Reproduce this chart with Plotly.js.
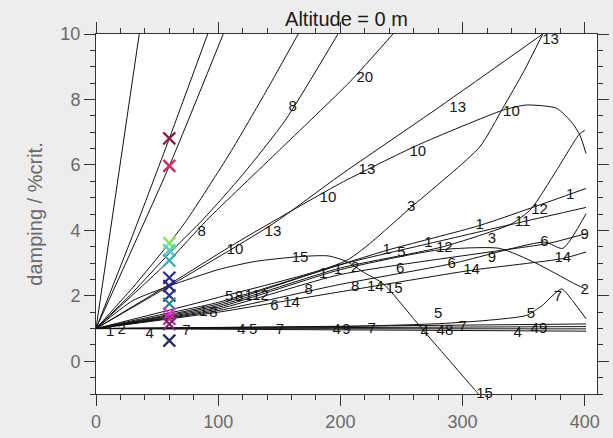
<!DOCTYPE html>
<html>
<head>
<meta charset="utf-8">
<script src="https://cdn.plot.ly/plotly-3.0.1.min.js"></script>
<style>
  html, body { margin: 0; padding: 0; background: #ededed; }
  #chart { width: 613px; height: 438px; }
</style>
</head>
<body>
<div id="chart"></div>
<script>
// V-g branches: speed and damping (% critical) for each tracked mode
const speed_fanA = [0, 35.4];
const damp_fanA  = [1, 10];
const speed_fanB = [0, 30, 60, 91.4];
const damp_fanB  = [1, 3.85, 6.81, 10];
const speed_fanC = [0, 60, 104.1];
const damp_fanC  = [1, 5.97, 10];
const speed_fanD = [0, 30, 60, 74.2, 109.6, 140, 165.5];
const damp_fanD  = [1, 2.25, 3.61, 4.31, 6.36, 8.3, 10];
const speed_m8  = [0, 30, 60, 88, 120, 155, 198];
const damp_m8   = [1, 2.1, 3.3, 4.35, 5.7, 7.37, 10];
const speed_m20 = [0, 60, 90.6, 150, 207.8, 243];
const damp_m20  = [1, 3.08, 4.31, 6.45, 8.54, 10];
const speed_m13 = [0, 60, 144.8, 199.6, 281, 365.6];
const damp_m13  = [1, 2.3, 4.2, 5.68, 7.77, 10];
const speed_m10 = [0, 60, 114, 199.6, 263, 333, 352, 377, 390, 396, 401];
const damp_m10  = [1, 2.35, 3.6, 5.43, 6.6, 7.67, 7.83, 7.73, 7.27, 6.91, 6.35];
const speed_m3  = [0, 100, 205, 258, 314, 333, 350, 365.6];
const damp_m3   = [1, 1.95, 3.08, 4.71, 6.55, 7.74, 8.85, 10];
const speed_m15 = [0, 30, 60, 100, 130, 167, 190, 205, 220, 235, 270, 312, 314];
const damp_m15  = [1, 1.85, 2.3, 2.8, 3.05, 3.2, 3.22, 3.05, 2.7, 2.37, 0.85, -0.96, -1.05];
const speed_m1  = [0, 50, 100, 170, 238, 314, 401];
const damp_m1   = [1, 1.4, 1.8, 2.6, 3.39, 4.15, 5.28];
const speed_m11 = [0, 100, 200, 273, 349, 401];
const damp_m11  = [1, 1.75, 2.95, 3.6, 4.26, 4.7];
const speed_m12 = [0, 100, 200, 284, 340, 356, 377, 396, 400];
const damp_m12  = [1, 1.7, 2.85, 3.5, 4.2, 4.65, 5.84, 6.96, 7.05];
const speed_m2  = [0, 100, 200, 280, 330, 360, 390, 401];
const damp_m2   = [1, 1.65, 2.8, 3.4, 3.45, 3.0, 2.4, 2.2];
const speed_m9  = [0, 100, 200, 324, 370, 401];
const damp_m9   = [1, 1.6, 2.65, 3.35, 3.6, 3.9];
const speed_m6  = [0, 100, 200, 291, 367, 382, 401];
const damp_m6   = [1, 1.55, 2.35, 2.98, 3.64, 3.45, 4.51];
const speed_m14 = [0, 100, 156, 228.5, 307, 382, 401];
const damp_m14  = [1, 1.5, 1.85, 2.3, 2.78, 3.14, 3.34];
const speed_m7  = [0, 100, 200, 281, 320, 352, 365, 381, 390, 401];
const damp_m7   = [1, 1.03, 1.06, 1.15, 1.25, 1.4, 1.7, 2.21, 1.85, 1.3];
const speed_m5  = [0, 401];
const damp_m5   = [1, 1.14];
const speed_m4  = [0, 401];
const damp_m4   = [1, 1.06];
const speed_m16 = [0, 401];
const damp_m16  = [1, 0.99];
const speed_m17 = [0, 401];
const damp_m17  = [1, 0.92];

// Mode-number labels along the branches
const labelText  = ['8','20','13','13','10','10','13','3','10','13','10','8','15','15',
                    '1','1','12','1','11','12','1','9','6','14','3','9','2','7','6','14',
                    '8','14','15','5','6',
                    '5','8','1','1','2','6','14','8','1','1','2','1','8',
                    '1','2','4','7','4','5','7','4','9',
                    '7','4','5','4','8','7','4','5','4','9'];
const labelSpeed = [161, 220, 372, 296, 340, 263.4, 221.7, 258, 189.8, 144.8, 113.7, 86.4, 167, 318,
                    237.8, 272, 285, 314, 349, 363, 388, 400, 367, 382, 324, 324, 400, 378, 291, 307.3,
                    212, 228.5, 244, 250, 249,
                    109, 117, 125, 131, 138, 146, 160, 174, 186, 198, 212, 88, 96,
                    11.5, 21, 44, 74, 119, 128.7, 150.5, 197, 205,
                    225.5, 269, 280, 282, 289, 300, 345, 356, 359, 366];
const labelDamp  = [7.77, 8.65, 9.82, 7.73, 7.6, 6.39, 5.84, 4.71, 4.98, 3.94, 3.39, 3.95, 3.14, -1.0,
                    3.39, 3.6, 3.45, 4.15, 4.26, 4.6, 5.07, 3.85, 3.64, 3.14, 3.72, 3.16, 2.16, 1.96, 2.98, 2.78,
                    2.25, 2.25, 2.2, 3.3, 2.8,
                    1.97, 1.97, 1.99, 1.99, 1.99, 1.68, 1.78, 2.16, 2.66, 2.77, 2.84, 1.5, 1.48,
                    0.89, 0.94, 0.84, 0.92, 0.94, 0.94, 0.94, 0.94, 0.94,
                    0.99, 0.89, 1.45, 0.93, 0.93, 1.04, 0.85, 1.45, 0.97, 0.97];

// Operating-point markers at V = 60
const markSpeed = [60, 60, 60, 60, 60, 60, 60, 60, 60, 60, 60, 60, 60];
const markDamp  = [6.81, 5.97, 3.61, 3.39, 3.08, 2.55, 2.3, 2.01, 1.76, 1.45, 1.3, 1.14, 0.63];
const markColor = ['#8a1c3c', '#d8245a', '#7ee860', '#48d0c0', '#30b0b8', '#2a2a9a', '#25258a',
                   '#303090', '#1a8a8a', '#e030d0', '#c02890', '#7a2070', '#2a2a60'];

const branches = [
  [speed_fanA, damp_fanA], [speed_fanB, damp_fanB], [speed_fanC, damp_fanC], [speed_fanD, damp_fanD],
  [speed_m8, damp_m8], [speed_m20, damp_m20], [speed_m13, damp_m13], [speed_m10, damp_m10],
  [speed_m3, damp_m3], [speed_m15, damp_m15], [speed_m1, damp_m1], [speed_m11, damp_m11],
  [speed_m12, damp_m12], [speed_m2, damp_m2], [speed_m9, damp_m9], [speed_m6, damp_m6],
  [speed_m14, damp_m14], [speed_m7, damp_m7], [speed_m5, damp_m5], [speed_m4, damp_m4],
  [speed_m16, damp_m16], [speed_m17, damp_m17]
];

const traces = branches.map(([s, d]) => ({
  x: s, y: d, type: 'scatter', mode: 'lines',
  line: { color: '#111111', width: 1, shape: 'spline', smoothing: 0.6 },
  hoverinfo: 'skip', showlegend: false, cliponaxis: true
}));

traces.push({
  x: labelSpeed, y: labelDamp, text: labelText, type: 'scatter', mode: 'text',
  textposition: 'middle center',
  textfont: { family: 'Liberation Sans, Arial, sans-serif', size: 15, color: '#151515' },
  hoverinfo: 'skip', showlegend: false, cliponaxis: false
});

traces.push({
  x: markSpeed, y: markDamp, type: 'scatter', mode: 'markers',
  marker: { symbol: 'x-thin', size: 12, line: { width: 2.2, color: markColor } },
  hoverinfo: 'skip', showlegend: false
});

const axisCommon = {
  showgrid: false, zeroline: false, showline: true, linecolor: '#333', linewidth: 1,
  ticks: 'outside', ticklen: 11, tickwidth: 1, tickcolor: '#333', mirror: 'allticks',
  tickfont: { family: 'Liberation Sans, Arial, sans-serif', size: 18, color: '#6a6a6a' }
};

const layout = {
  width: 613, height: 438,
  margin: { l: 96, r: 16, t: 34, b: 44 },
  paper_bgcolor: '#ededed', plot_bgcolor: '#ffffff',
  title: {
    text: 'Altitude = 0 m',
    font: { family: 'Liberation Sans, Arial, sans-serif', size: 20, color: '#1a1a1a' },
    x: 0.5, xref: 'paper', xanchor: 'center', y: 0.957, yref: 'container', yanchor: 'middle'
  },
  xaxis: Object.assign({}, axisCommon, {
    range: [0, 410], tick0: 0, dtick: 100,
    minor: { dtick: 20, ticklen: 5, ticks: 'outside', tickcolor: '#333' }
  }),
  yaxis: Object.assign({}, axisCommon, {
    range: [-1, 10], tick0: 0, dtick: 2,
    minor: { dtick: 0.5, ticklen: 5, ticks: 'outside', tickcolor: '#333' },
    title: { text: 'damping / %crit.', standoff: 12,
             font: { family: 'Liberation Sans, Arial, sans-serif', size: 20, color: '#6a6a6a' } }
  })
};

Plotly.newPlot('chart', traces, layout, { staticPlot: true, displayModeBar: false });
</script>
</body>
</html>
